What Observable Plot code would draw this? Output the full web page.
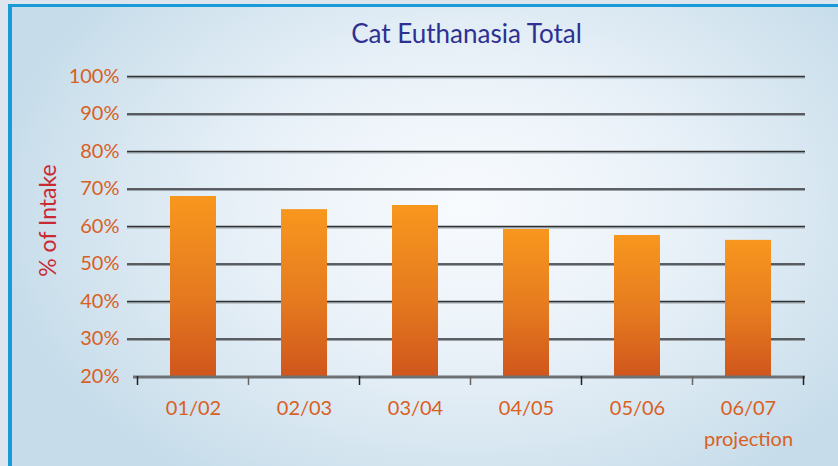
<!DOCTYPE html>
<html>
<head>
<meta charset="utf-8">
<script src="https://cdn.jsdelivr.net/npm/d3@7"></script>
<script src="https://cdn.jsdelivr.net/npm/@observablehq/plot@0.6"></script>
<style>
  html, body { margin: 0; padding: 0; background: #dde5ee; }
  #wrap {
    position: relative; width: 838px; height: 466px; overflow: hidden;
    background: #dde5ee;
  }
  #panel {
    position: absolute; left: 8px; top: 4px; width: 830px; height: 462px;
    border-left: 4px solid #1a9ad7; border-top: 3px solid #1a9ad7;
    box-sizing: border-box;
    background: radial-gradient(ellipse 480px 330px at 455px 200px, #f8fbfe 0%, #e9f1f8 45%, #d3e4ef 80%, #c6dcea 100%);
  }
  #chart { position: absolute; left: 0; top: 0; }
  svg { overflow: visible; }
</style>
</head>
<body>
<div id="wrap"><div id="panel"></div><div id="chart"></div></div>
<script>
const title = "Cat Euthanasia Total";
const yLabel = "% of Intake";
const categories = ["01/02", "02/03", "03/04", "04/05", "05/06", "06/07"];
const values = [68, 64.5, 65.6, 59.2, 57.6, 56.3];
const subLabels = ["", "", "", "", "", "projection"];
const yTicks = [20, 30, 40, 50, 60, 70, 80, 90, 100];

const data = categories.map((c, i) => ({cat: c, value: values[i], sub: subLabels[i]}));
const orange = "#d9601e";
const font = "Lato, 'Open Sans', sans-serif";

const defs = () => {
  const g = d3.create("svg:defs");
  const lg = g.append("linearGradient").attr("id", "barGrad").attr("x1", 0).attr("y1", 0).attr("x2", 0).attr("y2", 1);
  lg.append("stop").attr("offset", "0%").attr("stop-color", "#f8971e");
  lg.append("stop").attr("offset", "55%").attr("stop-color", "#e57a1f");
  lg.append("stop").attr("offset", "100%").attr("stop-color", "#d0561c");
  return g.node();
};

// tick marks at band boundaries, computed from the band scale
const bandTicks = (index, scales, values, dimensions) => {
  const x = scales.x;
  const y = scales.y;
  const step = x.step ? x.step() : (dimensions.width - dimensions.marginRight - 135) / categories.length;
  const pos = categories.map(c => x(c) + x.bandwidth() / 2 - step / 2);
  pos.push(x(categories[categories.length - 1]) + x.bandwidth() / 2 + step / 2);
  const y0 = y(yTicks[0]);
  const g = d3.create("svg:g");
  g.selectAll("line").data(pos).join("line")
    .attr("x1", d => d).attr("x2", d => d)
    .attr("y1", y0).attr("y2", y0 + 9)
    .attr("stroke", (d, i) => i % 2 ? "#666" : "#222").attr("stroke-width", 1.5);
  return g.node();
};

const chart = Plot.plot({
  width: 838,
  height: 466,
  marginLeft: 127,
  marginRight: 33,
  marginTop: 76,
  marginBottom: 90,
  style: {background: "transparent", fontFamily: font},
  x: {domain: categories, range: [135, 805], paddingInner: 0.59, paddingOuter: 0.295, axis: null},
  y: {domain: [20, 100], axis: null},
  marks: [
    defs,
    Plot.ruleY(yTicks.slice(1), {stroke: "#9aa3aa", strokeWidth: 1.2, dy: 1.3}),
    Plot.ruleY(yTicks.slice(1), {stroke: "#2f3133", strokeWidth: 1.4}),
    Plot.barY(data, {x: "cat", y1: 20, y2: "value", fill: "url(#barGrad)"}),
    Plot.ruleY([20], {stroke: "#6d7174", strokeWidth: 3, dy: 0.5, insetLeft: 6}),
    bandTicks,
    Plot.text(yTicks, {y: d => d, frameAnchor: "left", dx: -8, textAnchor: "end", text: d => d + "%", fill: orange, fontSize: 20}),
    Plot.text(data, {x: "cat", y: () => 20, dy: 32, text: "cat", fill: orange, fontSize: 20}),
    Plot.text(data, {x: "cat", y: () => 20, dy: 63, text: "sub", fill: orange, fontSize: 20}),
    Plot.text([title], {frameAnchor: "top", lineAnchor: "middle", dy: -42, text: d => d, fill: "#2e3192", fontSize: 26}),
    Plot.text([yLabel], {frameAnchor: "left", textAnchor: "middle", dx: -79, dy: -6, rotate: -90, text: d => d, fill: "#c92a32", fontSize: 23})
  ]
});
document.getElementById("chart").appendChild(chart);
</script>
</body>
</html>
